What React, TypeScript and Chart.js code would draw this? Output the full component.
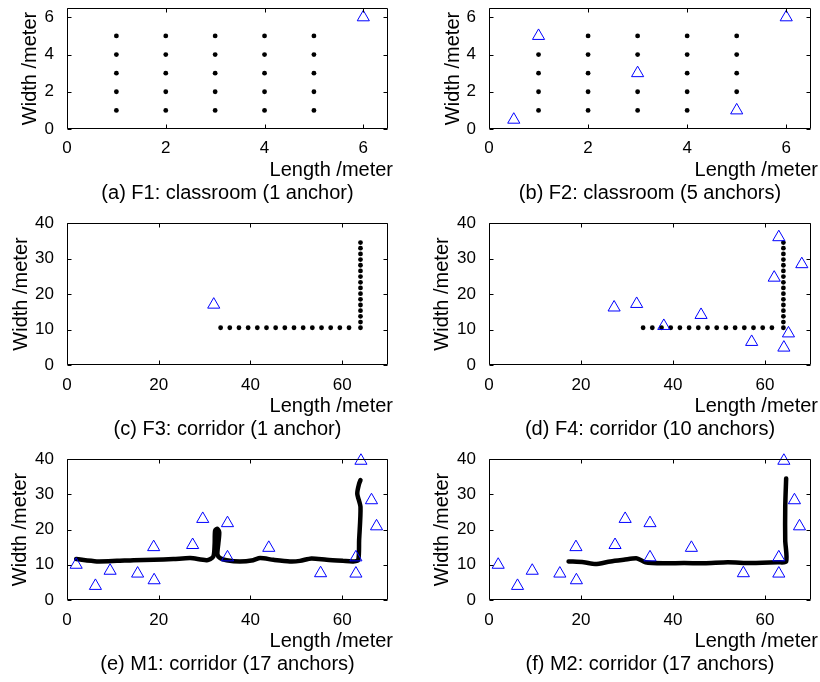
import React, { useEffect, useRef } from 'react';
import { Chart, registerables } from 'chart.js';

Chart.register(...registerables);

const FONT = '"Liberation Sans", Arial, Helvetica, sans-serif';

// ---------- (a) F1 classroom ----------
const f1DotsX = [1, 1, 1, 1, 1, 2, 2, 2, 2, 2, 3, 3, 3, 3, 3, 4, 4, 4, 4, 4, 5, 5, 5, 5, 5];
const f1DotsY = [1, 2, 3, 4, 5, 1, 2, 3, 4, 5, 1, 2, 3, 4, 5, 1, 2, 3, 4, 5, 1, 2, 3, 4, 5];
const f1AnchorX = [6];
const f1AnchorY = [6];

// ---------- (b) F2 classroom ----------
const f2DotsX = [1, 1, 1, 1, 2, 2, 2, 2, 2, 3, 3, 3, 3, 4, 4, 4, 4, 4, 5, 5, 5, 5];
const f2DotsY = [1, 2, 3, 4, 1, 2, 3, 4, 5, 1, 2, 4, 5, 1, 2, 3, 4, 5, 2, 3, 4, 5];
const f2AnchorX = [0.5, 1, 3, 5, 6];
const f2AnchorY = [0.5, 5, 3, 1, 6];

// ---------- (c)/(d) corridor test points ----------
const corridorDotsX = [
  33.5, 35.5, 37.5, 39.5, 41.5, 43.5, 45.5, 47.5, 49.5, 51.5, 53.5, 55.5, 57.5, 59.5, 61.5, 64,
  64, 64, 64, 64, 64, 64, 64, 64, 64, 64, 64, 64, 64, 64, 64,
];
const corridorDotsY = [
  10.5, 10.5, 10.5, 10.5, 10.5, 10.5, 10.5, 10.5, 10.5, 10.5, 10.5, 10.5, 10.5, 10.5, 10.5, 10.5,
  12.1, 13.7, 15.3, 16.9, 18.5, 20.1, 21.7, 23.3, 24.9, 26.5, 28.1, 29.7, 31.3, 32.9, 34.5,
];
const f3AnchorX = [32];
const f3AnchorY = [17];
const f4AnchorX = [27.2, 32.1, 38.0, 46.1, 57.1, 63.0, 62.0, 68.0, 65.1, 64.1];
const f4AnchorY = [16.2, 17.2, 11.0, 14.1, 6.5, 36.0, 24.6, 28.4, 8.9, 4.9];

// ---------- (e)/(f) mobile corridor ----------
const mAnchorX = [2.0, 6.2, 9.4, 15.4, 18.9, 19.0, 27.4, 29.6, 35.0, 35.0, 44.0, 55.3, 63.0, 63.0, 64.1, 66.4, 67.5];
const mAnchorY = [10.0, 4.0, 8.3, 7.5, 15.0, 5.6, 15.6, 23.0, 21.8, 12.1, 14.8, 7.6, 12.1, 7.5, 39.5, 28.3, 20.9];

const m1PathX = [2.0, 6.5, 10.9, 14.5, 18.9, 23.2, 26.9, 30.5, 31.9, 32.2, 32.3, 32.8, 33.2, 33.0, 32.8, 33.4, 34.8, 37.7, 40.6, 42.1, 45.0, 48.6, 50.8, 53.3, 56.6, 60.2, 62.4, 63.5, 63.7, 64.0, 63.3, 63.7, 64.0];
const m1PathY = [11.6, 10.95, 11.1, 11.3, 11.4, 11.6, 11.9, 11.3, 12.3, 16.0, 19.7, 20.2, 19.2, 16.0, 13.0, 11.9, 11.3, 10.95, 11.3, 11.9, 11.4, 10.95, 11.1, 11.8, 11.4, 11.1, 10.95, 11.3, 16.9, 26.4, 30.2, 33.0, 34.0];

const m2PathX = [17.3, 20.6, 23.1, 26.4, 29.3, 32.2, 34.0, 38.0, 42.4, 46.8, 51.9, 56.9, 62.8, 64.6, 64.4, 64.4, 64.6];
const m2PathY = [10.95, 10.7, 10.2, 10.95, 11.4, 11.8, 10.7, 10.4, 10.5, 10.4, 10.7, 10.5, 10.7, 10.9, 16.9, 26.4, 34.5];

const captions = [
  '(a) F1: classroom (1 anchor)',
  '(b) F2: classroom (5 anchors)',
  '(c) F3: corridor (1 anchor)',
  '(d) F4: corridor (10 anchors)',
  '(e) M1: corridor (17 anchors)',
  '(f) M2: corridor (17 anchors)',
];

const zip = (xs: number[], ys: number[]) => xs.map((x, i) => ({ x, y: ys[i] }));

const anchorDs = (xs: number[], ys: number[]) => ({
  data: zip(xs, ys),
  pointStyle: 'triangle',
  pointRadius: 7,
  borderColor: '#0000ff',
  backgroundColor: 'rgba(0,0,0,0)',
  borderWidth: 1,
  clip: false,
});
const dotDs = (xs: number[], ys: number[]) => ({
  data: zip(xs, ys),
  pointStyle: 'circle',
  pointRadius: 2.4,
  borderWidth: 0,
  backgroundColor: '#000',
  borderColor: '#000',
});
const pathDs = (xs: number[], ys: number[]) => ({
  data: zip(xs, ys),
  showLine: true,
  pointRadius: 0,
  borderColor: '#000',
  borderWidth: 4.5,
  borderCapStyle: 'round',
  borderJoinStyle: 'round',
  tension: 0.25,
});

type Panel = {
  left: number; top: number; width: number; height: number;
  aL: number; aR: number; aT: number; aB: number;
  xMax: number; xStep: number; yMax: number; yStep: number;
  xTickPad: number; yTitlePad: number; titleShift: number;
  caption: string; datasets: any[];
};

const framePlugin = {
  id: 'matlabFrame',
  afterDraw(chart: any, _args: any, opts: any) {
    const { ctx, chartArea } = chart;
    const { left, right, top, bottom } = chartArea;
    const xs = chart.scales.x;
    const ys = chart.scales.y;
    ctx.save();
    ctx.strokeStyle = '#000';
    ctx.lineWidth = 1;
    const L = Math.round(left) + 0.5;
    const R = Math.round(right) - 0.5;
    const T = Math.round(top) + 0.5;
    const B = Math.round(bottom) - 0.5;
    ctx.beginPath();
    ctx.rect(L, T, R - L, B - T);
    const tl = 4;
    xs.ticks.forEach((t: any) => {
      const px = Math.round(xs.getPixelForValue(t.value)) + 0.5;
      ctx.moveTo(px, B); ctx.lineTo(px, B - tl);
      ctx.moveTo(px, T); ctx.lineTo(px, T + tl);
    });
    ys.ticks.forEach((t: any) => {
      const py = Math.round(ys.getPixelForValue(t.value)) + 0.5;
      ctx.moveTo(L, py); ctx.lineTo(L + tl, py);
      ctx.moveTo(R, py); ctx.lineTo(R - tl, py);
    });
    ctx.stroke();
    ctx.fillStyle = '#000';
    ctx.font = `20px ${FONT}`;
    ctx.textBaseline = 'alphabetic';
    ctx.textAlign = 'right';
    ctx.fillText('Length /meter', right + opts.titleShift, bottom + 47);
    ctx.textAlign = 'center';
    ctx.fillText(opts.caption, (left + right) / 2, bottom + 70);
    ctx.restore();
  },
};

function buildConfig(p: Panel): any {
  return {
    type: 'scatter',
    data: { datasets: p.datasets },
    options: {
      animation: false,
      responsive: true,
      maintainAspectRatio: false,
      events: [],
      layout: { padding: { top: p.aT - p.top, right: p.left + p.width - p.aR, left: 0, bottom: 0 } },
      plugins: {
        legend: { display: false },
        tooltip: { enabled: false },
        matlabFrame: { caption: p.caption, titleShift: p.titleShift },
      },
      scales: {
        x: {
          type: 'linear',
          min: 0,
          max: p.xMax,
          grid: { display: false },
          border: { display: false },
          ticks: {
            stepSize: p.xStep,
            includeBounds: false,
            padding: p.xTickPad,
            color: '#000',
            maxRotation: 0,
            autoSkip: false,
            font: { family: FONT, size: 17 },
          },
          afterFit: (s: any) => {
            s.height = p.top + p.height - p.aB;
            s.paddingLeft = 0; s.paddingRight = 0; s.paddingTop = 0; s.paddingBottom = 0;
          },
        },
        y: {
          type: 'linear',
          min: 0,
          max: p.yMax,
          grid: { display: false },
          border: { display: false },
          ticks: {
            stepSize: p.yStep,
            includeBounds: false,
            padding: 5,
            color: '#000',
            autoSkip: false,
            font: { family: FONT, size: 17 },
          },
          title: {
            display: true,
            text: 'Width /meter',
            color: '#000',
            font: { family: FONT, size: 20 },
            padding: { top: p.yTitlePad, bottom: 0 },
          },
          afterFit: (s: any) => {
            s.width = p.aL - p.left;
            s.paddingLeft = 0; s.paddingRight = 0; s.paddingTop = 0; s.paddingBottom = 0;
          },
        },
      },
    },
    plugins: [framePlugin],
  };
}

const rows = [
  { top: 0, height: 210, aT: 1, aB: 129, yMax: 6.5, yStep: 2, xMax: 6.5, xStep: 2, xTickPad: 1 },
  { top: 210, height: 235, aT: 223, aB: 365, yMax: 40, yStep: 10, xMax: 70, xStep: 20, xTickPad: 2 },
  { top: 445, height: 237, aT: 459, aB: 600, yMax: 40, yStep: 10, xMax: 70, xStep: 20, xTickPad: 2 },
];
const cols = [
  { left: 0, width: 410, aL: 67, aR: 388, titleShift: 5 },
  { left: 410, width: 410, aL: 489, aR: 811, titleShift: 7 },
];
const yTitlePads = [18, 31, 9, 20, 8, 20];

const panelData = [
  [anchorDs(f1AnchorX, f1AnchorY), dotDs(f1DotsX, f1DotsY)],
  [anchorDs(f2AnchorX, f2AnchorY), dotDs(f2DotsX, f2DotsY)],
  [anchorDs(f3AnchorX, f3AnchorY), dotDs(corridorDotsX, corridorDotsY)],
  [anchorDs(f4AnchorX, f4AnchorY), dotDs(corridorDotsX, corridorDotsY)],
  [anchorDs(mAnchorX, mAnchorY), pathDs(m1PathX, m1PathY)],
  [anchorDs(mAnchorX, mAnchorY), pathDs(m2PathX, m2PathY)],
];

const panels: Panel[] = [];
rows.forEach((r, ri) => {
  cols.forEach((c, ci) => {
    const i = ri * 2 + ci;
    panels.push({
      left: c.left, top: r.top, width: c.width, height: r.height,
      aL: c.aL, aR: c.aR, aT: r.aT, aB: r.aB,
      xMax: r.xMax, xStep: r.xStep, yMax: r.yMax, yStep: r.yStep,
      xTickPad: r.xTickPad, yTitlePad: yTitlePads[i], titleShift: c.titleShift,
      caption: captions[i], datasets: panelData[i],
    });
  });
});

function PanelChart({ p }: { p: Panel }) {
  const ref = useRef<HTMLCanvasElement>(null);
  useEffect(() => {
    const chart = new Chart(ref.current as HTMLCanvasElement, buildConfig(p));
    return () => chart.destroy();
  }, []);
  return (
    <div style={{ position: 'absolute', left: p.left, top: p.top, width: p.width, height: p.height }}>
      <canvas ref={ref} />
    </div>
  );
}

export default function App() {
  return (
    <div style={{ position: 'absolute', left: 0, top: 0, width: 820, height: 682, background: '#fff' }}>
      {panels.map((p, i) => (
        <PanelChart key={i} p={p} />
      ))}
    </div>
  );
}
